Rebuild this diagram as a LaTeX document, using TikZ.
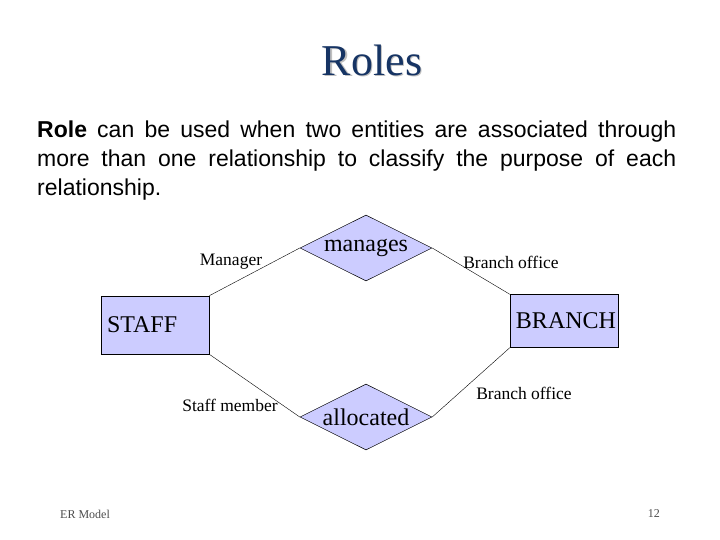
\documentclass[tikz,border=0pt]{standalone}
\usepackage{fontspec}
\setmainfont{Liberation Serif}
\newfontfamily\arialfont{Liberation Sans}
\usetikzlibrary{shapes.geometric}
\definecolor{entfill}{RGB}{204,204,255}
\definecolor{titleblue}{RGB}{22,52,100}
\tikzset{
  entity/.style={draw=black, line width=0.5pt, fill=entfill, minimum width=108pt, inner sep=0pt, font=\fontsize{24}{28}\selectfont},
  rel/.style={diamond, draw=black, line width=0.5pt, fill=entfill, minimum width=132pt, minimum height=66pt, inner sep=0pt, aspect=2, font=\fontsize{24}{28}\selectfont},
  rolelbl/.style={inner sep=0pt, font=\fontsize{17.5}{20}\selectfont},
  conn/.style={draw=black, line width=0.4pt}
}
\begin{document}
\begin{tikzpicture}[x=1pt,y=-1pt]
\useasboundingbox (0,0) rectangle (720,540);
% title
\node[text=black!25, font=\fontsize{44}{50}\selectfont] (titleshadow) at (373.5,61.5) {Roles};
\node[text=titleblue, font=\fontsize{44}{50}\selectfont] (title) at (372,60) {Roles};
% paragraph
\node[anchor=north west, inner sep=0pt, text width=639pt, align=justify, font=\arialfont\fontsize{23}{29}\selectfont] (para) at (37,121)
{\textbf{Role} can be used when two entities are associated through\linebreak more than one relationship to classify the purpose of each\linebreak relationship.};
% entities
\node[entity, minimum height=58pt, text width=96pt, align=left] (staff) at (155,325) {STAFF};
\node[entity, minimum height=53pt, text width=104pt, align=right] (branch) at (564,321) {BRANCH};
% relationships
\node[rel] (manages) at (366,248) {\raisebox{3pt}{manages}};
\node[rel] (allocated) at (366,417) {allocated};
% connectors
\draw[conn] (staff.north east) -- (manages.west);
\draw[conn] (manages.east) -- (branch.north west);
\draw[conn] (staff.south east) -- (allocated.west);
\draw[conn] (allocated.east) -- (branch.south west);
% role labels
\node[rolelbl] (lmanager) at (231,262) {Manager};
\node[rolelbl] (lbranch1) at (511,262) {Branch office};
\node[rolelbl] (lstaffm) at (230,405) {Staff member};
\node[rolelbl] (lbranch2) at (524,393) {Branch office};
% footer
\node[anchor=west, inner sep=0pt, text=black!70, font=\fontsize{12}{14}\selectfont] (footl) at (60,514) {ER Model};
\node[anchor=east, inner sep=0pt, text=black!70, font=\fontsize{12}{14}\selectfont] (footr) at (660,514) {12};
\end{tikzpicture}
\end{document}
